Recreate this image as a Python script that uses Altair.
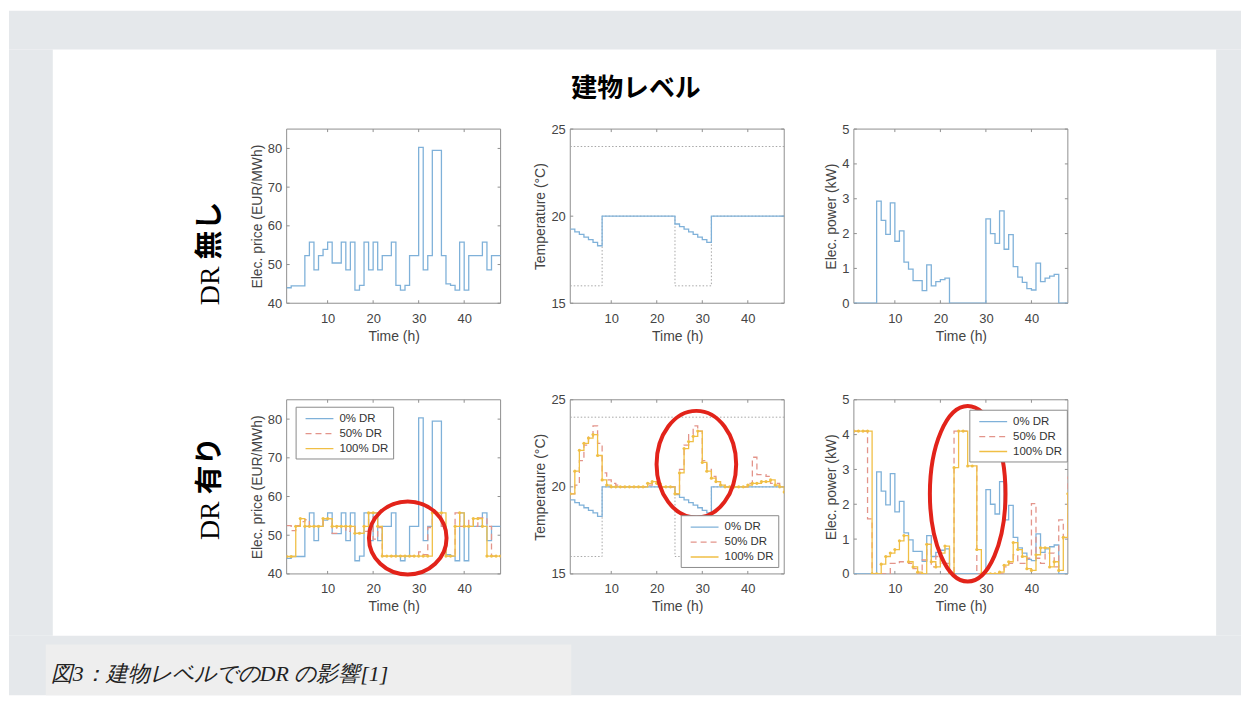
import altair as alt
import pandas as pd

# ---------------- data ----------------
hours = list(range(1, 49))
series_names = ["0% DR", "50% DR", "100% DR"]

price_0 = [44.0, 44.5, 44.5, 44.5, 52.3, 55.8, 48.6, 52.3, 53.9, 55.8,
           50.4, 50.4, 55.8, 48.6, 55.8, 43.4, 44.6, 55.8, 48.6, 55.8,
           48.6, 52.3, 52.3, 55.8, 44.6, 43.4, 44.6, 52.3, 52.3, 80.3,
           48.6, 52.3, 79.5, 79.5, 52.3, 45.0, 44.6, 43.4, 55.8, 43.4,
           52.3, 52.3, 52.3, 55.8, 48.6, 52.3, 52.3, 52.3]
price_50 = [52.5, 51.2, 52.5, 53.5, 54.0, 52.3, 52.3, 52.3, 54.3, 54.3,
            50.5, 52.3, 52.3, 51.0, 52.3, 50.5, 50.5, 51.0, 55.8, 49.0,
            52.0, 44.6, 44.6, 44.6, 44.6, 44.6, 44.6, 44.6, 44.6, 45.7,
            45.0, 52.0, 55.8, 55.8, 52.3, 44.6, 44.6, 55.8, 52.3, 52.3,
            54.0, 52.3, 54.5, 54.5, 52.3, 44.6, 44.6, 44.6]
price_100 = [44.5, 44.5, 52.3, 54.3, 52.3, 52.3, 52.3, 52.3, 54.3, 54.3,
             52.3, 52.3, 52.3, 52.3, 52.3, 50.5, 50.5, 52.3, 55.8, 55.8,
             52.3, 44.6, 44.6, 44.6, 44.6, 44.6, 44.6, 44.6, 44.6, 44.6,
             44.6, 44.6, 55.8, 55.8, 55.8, 44.6, 44.6, 52.3, 55.8, 52.3,
             52.3, 54.3, 54.3, 52.3, 44.6, 44.6, 44.6, 44.6]

temp_0 = [19.25, 19.1, 18.95, 18.8, 18.65, 18.5, 18.3, 20.0, 20.0, 20.0,
          20.0, 20.0, 20.0, 20.0, 20.0, 20.0, 20.0, 20.0, 20.0, 20.0,
          20.0, 20.0, 20.0, 19.55, 19.4, 19.25, 19.1, 18.95, 18.8, 18.65,
          18.5, 20.0, 20.0, 20.0, 20.0, 20.0, 20.0, 20.0, 20.0, 20.0,
          20.0, 20.0, 20.0, 20.0, 20.0, 20.0, 20.0, 20.0]
temp_50 = [19.6, 20.1, 21.5, 22.4, 22.9, 23.5, 22.5, 20.8, 20.4, 20.2,
           20.1, 20.0, 20.0, 20.0, 20.0, 20.0, 20.0, 20.1, 20.3, 20.2,
           20.0, 20.0, 20.0, 19.6, 21.0, 22.4, 23.0, 23.5, 23.2, 21.5,
           21.0, 20.6, 20.3, 20.1, 20.0, 20.0, 20.0, 20.0, 20.0, 20.2,
           21.7, 20.7, 20.7, 20.6, 20.2, 20.2, 20.0, 20.0]
temp_100 = [19.6, 20.9, 22.1, 22.5, 22.8, 23.0, 21.8, 20.4, 20.1, 20.0,
            20.0, 20.0, 20.0, 20.0, 20.0, 20.0, 20.0, 20.2, 20.3, 20.2,
            20.0, 20.0, 20.0, 19.6, 20.8, 22.2, 22.6, 22.9, 23.2, 21.4,
            20.9, 20.5, 20.3, 20.1, 20.0, 20.0, 20.0, 20.0, 20.0, 20.1,
            20.2, 20.2, 20.3, 20.3, 20.4, 20.1, 20.0, 19.7]
comfort_lower = [16, 16, 16, 16, 16, 16, 16, 20, 20, 20,
                 20, 20, 20, 20, 20, 20, 20, 20, 20, 20,
                 20, 20, 20, 16, 16, 16, 16, 16, 16, 16,
                 16, 20, 20, 20, 20, 20, 20, 20, 20, 20,
                 20, 20, 20, 20, 20, 20, 20, 20]
comfort_upper = [24]

power_0 = [0, 0, 0, 0, 0, 2.93, 2.38, 1.98, 2.88, 1.78,
           2.08, 1.18, 0.98, 0.65, 0.65, 0.36, 1.10, 0.50, 0.62, 0.68,
           0.72, 0, 0, 0, 0, 0, 0, 0, 0, 2.42,
           2.00, 1.72, 2.65, 1.55, 1.97, 1.05, 0.75, 0.60, 0.42, 0.38,
           1.15, 0.62, 0.72, 0.78, 0.83, 0, 0, 0]
power_50 = [4.1, 4.1, 4.1, 1.58, 0, 0, 0, 0, 0.3, 0.3,
            0.35, 0.35, 0.3, 0.15, 0, 0.4, 0.85, 0.2, 0.5, 0.3,
            0.3, 0, 4.1, 4.1, 4.1, 4.1, 4.1, 0, 0, 0,
            0, 0, 0, 0.2, 0.3, 0.55, 0.3, 0.3, 0.45, 2.02,
            0.45, 0.3, 0.6, 0.6, 0.2, 1.55, 1.0, 2.8]
power_100 = [4.1, 4.1, 4.1, 4.1, 0, 0, 0.28, 0.5, 0.6, 0.7,
             0.95, 1.1, 0.35, 0.2, 0.05, 0, 0.85, 0.35, 0.2, 0.6,
             0.8, 0, 3.05, 4.1, 4.1, 3.1, 3.1, 0.7, 0, 0,
             0, 0, 0.05, 0.25, 0.35, 0.9, 0.7, 0.5, 0.15, 0.1,
             0.55, 0.75, 0.75, 0.2, 0.35, 0.1, 1.05, 2.3]

x_ticks = [10, 20, 30, 40]
price_ticks = [40, 50, 60, 70, 80]
temp_ticks = [15, 20, 25]
power_ticks = [0, 1, 2, 3, 4, 5]

title_text = "建物レベル"
row_label_latin = "DR"
row_label_kana = ["無し", "有り"]
caption_text = "図3：建物レベルでのDR の影響[1]"

# highlighted regions (hour, value)
circle_price = [27.6, 49.3]
circle_temp = [28.7, 21.3]
circle_power = [26.0, 2.3]

# ---------------- style ----------------
BLUE = "#7fb1d9"
RED = "#e3948a"
ORANGE = "#f0bf45"
BOUND = "#a6a6a6"
FRAME = "#8f8f8f"
MARK_RED = "#e2231a"
BG = "#e5e8eb"
W, H = 215, 175
OX, OY = 287, 127  # page position of first panel's plot origin

one = pd.DataFrame({"k": [0]})


def px(x):
    return x - OX


def py(y):
    return y - OY


def series_df(pairs):
    rows = []
    for name, vals in pairs:
        for h, v in zip(hours, vals):
            rows.append({"hour": h, "value": v, "series": name})
    return pd.DataFrame(rows)


def x_enc():
    return alt.X("hour:Q", scale=alt.Scale(domain=[1, 48], nice=False, zero=False),
                 axis=alt.Axis(values=x_ticks, title="Time (h)"))


def y_enc(dom, ticks, title):
    return alt.Y("value:Q", scale=alt.Scale(domain=dom, nice=False, zero=False),
                 axis=alt.Axis(values=ticks, title=title))


def frame(dom, ticks, title):
    box = alt.Chart(one).mark_rect(fill="transparent", stroke=FRAME, strokeWidth=1).encode(
        x=alt.value(0), x2=alt.value(W), y=alt.value(0), y2=alt.value(H))
    xt = pd.DataFrame({"hour": x_ticks})
    yt = pd.DataFrame({"value": ticks})
    tl = 3
    out = [box]
    for y0, y1 in [(H, H - tl), (0, tl)]:
        out.append(alt.Chart(xt).mark_rule(color=FRAME, strokeWidth=1).encode(
            x=x_enc(), y=alt.value(y0), y2=alt.value(y1)))
    for x0, x1 in [(0, tl), (W, W - tl)]:
        out.append(alt.Chart(yt).mark_rule(color=FRAME, strokeWidth=1).encode(
            y=y_enc(dom, ticks, title), x=alt.value(x0), x2=alt.value(x1)))
    return out


def bounds_layers(dom, ticks, title):
    low = alt.Chart(series_df([("lower", comfort_lower)])).mark_line(
        interpolate="step-after", color=BOUND, strokeDash=[1.5, 2], strokeWidth=1, clip=True
    ).encode(x=x_enc(), y=y_enc(dom, ticks, title))
    up = alt.Chart(pd.DataFrame({"value": comfort_upper})).mark_rule(
        color=BOUND, strokeDash=[1.5, 2], strokeWidth=1
    ).encode(y=y_enc(dom, ticks, title))
    return [low, up]


def ellipse_path(r):
    k = 0.5523
    return (f"M1,0 C1,{k*r:.3f} {k},{r} 0,{r} C{-k},{r} -1,{k*r:.3f} -1,0 "
            f"C-1,{-k*r:.3f} {-k},{-r} 0,{-r} C{k},{-r} 1,{-k*r:.3f} 1,0 Z")


def single_panel(vals, dom, ticks, title, pre=None, bounds=False):
    df = series_df([("0% DR", vals)])
    layers = list(pre or [])
    layers += frame(dom, ticks, title)
    if bounds:
        layers += bounds_layers(dom, ticks, title)
    layers.append(alt.Chart(df).mark_line(interpolate="step-after", color=BLUE,
                                          strokeWidth=1.3, clip=True)
                  .encode(x=x_enc(), y=y_enc(dom, ticks, title)))
    return alt.layer(*layers).properties(width=W, height=H)


def dr_panel(pairs, dom, ticks, title, leg_xy, circle, rx, ratio, bounds=False):
    df = series_df(pairs)
    leg = alt.Legend(orient="none", legendX=leg_xy[0], legendY=leg_xy[1], title=None,
                     symbolType="M-2,0H2", symbolSize=196, symbolStrokeWidth=1.3,
                     symbolOffset=12, labelOffset=12, labelFontSize=11.5,
                     labelFont="Liberation Sans", labelColor="#333333",
                     fillColor="white", strokeColor="#8a8a8a", padding=4, rowPadding=1)
    color = alt.Color("series:N", scale=alt.Scale(domain=series_names, range=[BLUE, RED, ORANGE]),
                      legend=leg)
    dash = alt.StrokeDash("series:N", scale=alt.Scale(domain=series_names,
                                                      range=[[1, 0], [6, 4], [1, 0]]),
                          legend=leg)
    layers = frame(dom, ticks, title)
    if bounds:
        layers += bounds_layers(dom, ticks, title)
    for name in series_names:
        layers.append(alt.Chart(df).transform_filter(alt.datum.series == name)
                      .mark_line(interpolate="step-after", strokeWidth=1.3, clip=True)
                      .encode(x=x_enc(), y=y_enc(dom, ticks, title), color=color, strokeDash=dash))
    layers.append(alt.Chart(df).transform_filter(alt.datum.series == "100% DR")
                  .mark_point(filled=True, size=10, color=ORANGE, opacity=1, clip=True)
                  .encode(x=x_enc(), y=y_enc(dom, ticks, title)))
    cdf = pd.DataFrame({"hour": [circle[0]], "value": [circle[1]]})
    layers.append(alt.Chart(cdf).mark_point(shape=ellipse_path(ratio), size=(2 * rx) ** 2,
                                            filled=False, color=MARK_RED, strokeWidth=4, opacity=1)
                  .encode(x=x_enc(), y=y_enc(dom, ticks, title)))
    return alt.layer(*layers).properties(width=W, height=H)


# ---------------- decorations (page frame, titles) ----------------
def strip(x0, x1, y0, y1, color):
    return alt.Chart(one).mark_rect(color=color).encode(
        x=alt.value(px(x0)), x2=alt.value(px(x1)), y=alt.value(py(y0)), y2=alt.value(py(y1)))


frame_strips = [
    strip(8, 1246, 8, 47, BG),
    strip(8, 1246, 636, 696, BG),
    strip(8, 52, 47, 636, BG),
    strip(1221, 1246, 47, 636, BG),
    strip(45, 573, 645, 696, "#eeeeee"),
]
cap_txt = alt.Chart(one).mark_text(font="Liberation Serif", fontSize=22, fontStyle="italic",
                                   color="#222222", align="left", baseline="middle").encode(
    x=alt.value(px(50)), y=alt.value(py(675)), text=alt.value(caption_text))
title_txt = alt.Chart(one).mark_text(font="Noto Sans CJK JP", fontSize=26, fontWeight="bold",
                                     color="black", align="center", baseline="middle").encode(
    x=alt.value(px(638)), y=alt.value(py(87)), text=alt.value(title_text))

row_layers = []
for ybottom, kana in zip([304, 540], row_label_kana):
    row_layers.append(alt.Chart(one).mark_text(font="Liberation Serif", fontSize=28, color="black",
                                               align="left", baseline="middle", angle=270).encode(
        x=alt.value(px(211)), y=alt.value(py(ybottom)), text=alt.value(row_label_latin)))
    row_layers.append(alt.Chart(one).mark_text(font="Noto Sans CJK JP", fontSize=29, fontWeight="bold",
                                               color="black", align="left", baseline="middle",
                                               angle=270).encode(
        x=alt.value(px(210)), y=alt.value(py(ybottom - 46)), text=alt.value(kana)))

decor = frame_strips + [cap_txt, title_txt] + row_layers

# ---------------- panels ----------------
p1 = single_panel(price_0, [40, 85], price_ticks, "Elec. price (EUR/MWh)", pre=decor)
p2 = single_panel(temp_0, [15, 25], temp_ticks, "Temperature (°C)", bounds=True)
p3 = single_panel(power_0, [0, 5], power_ticks, "Elec. power (kW)")

p4 = dr_panel([("0% DR", price_0), ("50% DR", price_50), ("100% DR", price_100)],
              [40, 85], price_ticks, "Elec. price (EUR/MWh)", (9, 7), circle_price, 39, 0.94)
p5 = dr_panel([("0% DR", temp_0), ("50% DR", temp_50), ("100% DR", temp_100)],
              [15, 25], temp_ticks, "Temperature (°C)", (111, 116), circle_temp, 40, 1.34,
              bounds=True)
p6 = dr_panel([("0% DR", power_0), ("50% DR", power_50), ("100% DR", power_100)],
              [0, 5], power_ticks, "Elec. power (kW)", (116, 10), circle_power, 38, 2.32)

chart = (
    alt.concat(p1, p2, p3, p4, p5, p6, columns=3,
               spacing={"row": 97, "column": 70}, bounds="flush")
    .resolve_scale(x="independent", y="independent", color="independent",
                   strokeDash="independent")
    .properties(background="white", padding=0)
    .configure_view(stroke="transparent")
    .configure_axis(grid=False, ticks=False, domain=False, zindex=1,
                    labelFont="Liberation Sans", titleFont="Liberation Sans",
                    labelFontSize=13, titleFontSize=14, labelColor="#444444",
                    titleColor="#444444", titleFontWeight="normal")
    .configure_axisX(labelPadding=9, titlePadding=4)
    .configure_axisY(labelPadding=5, titlePadding=3)
)

chart.save("out.html", embed_options={"renderer": "svg", "actions": False})
